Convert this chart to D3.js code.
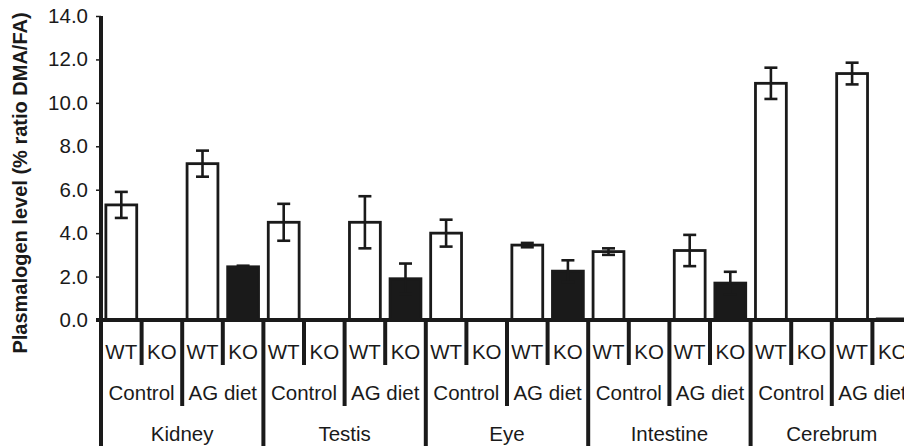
<!DOCTYPE html>
<html>
<head>
<meta charset="utf-8">
<script src="https://cdn.jsdelivr.net/npm/d3@7"></script>
<style>
  body { margin: 0; background: #fff; }
  svg { display: block; font-family: "Liberation Sans", Arial, sans-serif; }
</style>
</head>
<body>
<svg id="chart" width="904" height="446"></svg>
<script>
// categories
const tissues = ["Kidney", "Testis", "Eye", "Intestine", "Cerebrum"];
const diets = ["Control", "AG diet"];
const genotypes = ["WT", "KO"];
const yTicks = [0, 2, 4, 6, 8, 10, 12, 14];

// one value per tissue/diet pair, in order Kidney-Control, Kidney-AG diet, Testis-Control ...
const wtMean = [5.3, 7.2, 4.5, 4.5, 4.0, 3.45, 3.15, 3.2, 10.9, 11.35];
const wtErr  = [0.6, 0.6, 0.85, 1.2, 0.62, 0.1, 0.15, 0.72, 0.72, 0.5];
const koMean = [0, 2.45, 0, 1.9, 0, 2.25, 0, 1.7, 0, 0.05];
const koErr  = [0, 0.05, 0, 0.7, 0, 0.5, 0, 0.52, 0, 0];

const ink = "#1a1a1a";
const fs = "20.5px";
const svg = d3.select("#chart");

// flatten into 20 bars
let bars = [];
tissues.forEach((t, ti) => {
  diets.forEach((d, di) => {
    const k = ti * 2 + di;
    bars.push({tissue: t, diet: d, geno: genotypes[0], v: wtMean[k], e: wtErr[k]});
    bars.push({tissue: t, diet: d, geno: genotypes[1], v: koMean[k], e: koErr[k]});
  });
});
bars.forEach((b, i) => b.i = i);

const x0 = 101, slot = 40.6;
const x = d3.scaleBand()
  .domain(d3.range(bars.length))
  .range([x0, x0 + slot * bars.length])
  .paddingInner(0.24).paddingOuter(0.12);

const y = d3.scaleLinear().domain([0, 14]).range([320, 16]);

// y axis
const yAxis = svg.append("g")
  .attr("transform", `translate(${x0},0)`)
  .call(d3.axisLeft(y).tickValues(yTicks).tickFormat(d3.format(".1f")).tickSize(5).tickPadding(8));
yAxis.select(".domain").remove();
yAxis.selectAll(".tick line").attr("stroke", ink).attr("stroke-width", 1.5);
yAxis.selectAll(".tick text").attr("fill", ink).style("font-size", fs);

svg.append("text")
  .attr("transform", "translate(27,183) rotate(-90)")
  .attr("text-anchor", "middle")
  .attr("fill", ink)
  .style("font-size", "20px")
  .style("font-weight", "bold")
  .text("Plasmalogen level (% ratio DMA/FA)");

// bars
svg.selectAll("rect.bar")
  .data(bars.filter(b => b.v > 0))
  .enter().append("rect")
  .attr("class", "bar")
  .attr("x", d => x(d.i))
  .attr("width", x.bandwidth())
  .attr("y", d => y(d.v))
  .attr("height", d => y(0) - y(d.v))
  .attr("fill", d => d.geno === "WT" ? "#fff" : ink)
  .attr("stroke", ink)
  .attr("stroke-width", 2.8);

// error bars
const cap = 6.5;
const cx = d => x(d.i) + x.bandwidth() / 2;
const eb = svg.selectAll("g.err")
  .data(bars.filter(b => b.e > 0))
  .enter().append("g")
  .attr("class", "err")
  .attr("stroke", ink)
  .attr("stroke-width", 2.6);
eb.append("line")
  .attr("x1", cx).attr("x2", cx)
  .attr("y1", d => y(d.v + d.e)).attr("y2", d => y(d.v - d.e));
eb.append("line")
  .attr("x1", d => cx(d) - cap).attr("x2", d => cx(d) + cap)
  .attr("y1", d => y(d.v + d.e)).attr("y2", d => y(d.v + d.e));
eb.append("line")
  .attr("x1", d => cx(d) - cap).attr("x2", d => cx(d) + cap)
  .attr("y1", d => y(d.v - d.e)).attr("y2", d => y(d.v - d.e));

// axes lines
svg.append("line")
  .attr("x1", x0).attr("x2", x0).attr("y1", y(14)).attr("y2", 446)
  .attr("stroke", ink).attr("stroke-width", 4);
svg.append("line")
  .attr("x1", x0 - 5).attr("x2", 904).attr("y1", y(0)).attr("y2", y(0))
  .attr("stroke", ink).attr("stroke-width", 4);

// category separators below axis
const bounds = d3.range(1, bars.length + 1);
svg.selectAll("line.sep")
  .data(bounds)
  .enter().append("line")
  .attr("class", "sep")
  .attr("x1", i => x0 + i * slot).attr("x2", i => x0 + i * slot)
  .attr("y1", y(0))
  .attr("y2", i => i % 4 === 0 ? 446 : (i % 2 === 0 ? 406 : 365))
  .attr("stroke", ink).attr("stroke-width", 4);

// labels
svg.selectAll("text.geno")
  .data(bars)
  .enter().append("text")
  .attr("class", "geno")
  .attr("x", d => x0 + (d.i + 0.5) * slot)
  .attr("y", 359)
  .attr("text-anchor", "middle")
  .attr("fill", ink)
  .style("font-size", fs)
  .text(d => d.geno);

const pairs = d3.range(tissues.length * diets.length);
svg.selectAll("text.diet")
  .data(pairs)
  .enter().append("text")
  .attr("class", "diet")
  .attr("x", k => x0 + (k * 2 + 1) * slot)
  .attr("y", 400)
  .attr("text-anchor", "middle")
  .attr("fill", ink)
  .style("font-size", fs)
  .text(k => diets[k % 2]);

svg.selectAll("text.tissue")
  .data(tissues)
  .enter().append("text")
  .attr("class", "tissue")
  .attr("x", (t, ti) => x0 + (ti * 4 + 2) * slot)
  .attr("y", 441)
  .attr("text-anchor", "middle")
  .attr("fill", ink)
  .style("font-size", fs)
  .text(t => t);
</script>
</body>
</html>
